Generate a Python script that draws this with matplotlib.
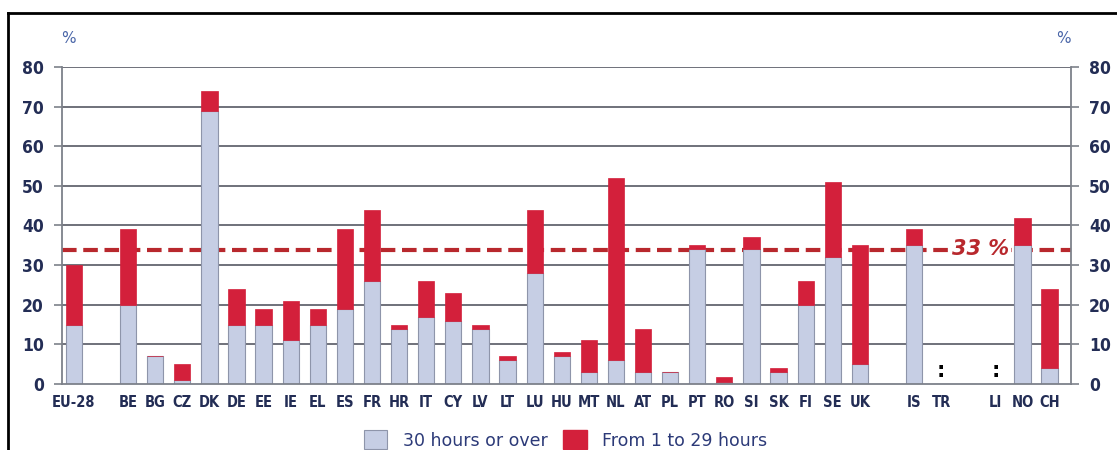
import numpy as np
import matplotlib
matplotlib.use("Agg")
import matplotlib.pyplot as plt
from matplotlib.patches import Patch

# Part-time employment by hours, %
countries = ["EU-28", "", "BE", "BG", "CZ", "DK", "DE", "EE", "IE", "EL", "ES", "FR",
             "HR", "IT", "CY", "LV", "LT", "LU", "HU", "MT", "NL", "AT", "PL", "PT",
             "RO", "SI", "SK", "FI", "SE", "UK", "", "IS", "TR", "", "LI", "NO", "CH"]
over30 = [15, 0, 20, 7, 1, 69, 15, 15, 11, 15, 19, 26,
          14, 17, 16, 14, 6, 28, 7, 3, 6, 3, 3, 34,
          0.5, 34, 3, 20, 32, 5, 0, 35, 0, 0, 0, 35, 4]
from1to29 = [15, 0, 19, 0, 4, 5, 9, 4, 10, 4, 20, 18,
             1, 9, 7, 1, 1, 16, 1, 8, 46, 11, 0, 1,
             1.3, 3, 1, 6, 19, 30, 0, 4, 0, 0, 0, 7, 20]
not_available = ["TR", "LI"]
reference_value = 33.7
reference_label = "33 %"

blue = "#c6cee4"
blue_edge = "#8e95aa"
red = "#d3203b"
dark_red = "#b8282d"
navy = "#232d55"

fig = plt.figure(figsize=(11.17, 4.5), dpi=100)
ax = fig.add_axes([0.0555, 0.1467, 0.9033, 0.7044])

x = np.arange(len(countries))
ax.set_xlim(-0.44, 36.79)
ax.set_ylim(0, 80)

# grid + reference line behind the bars
for yv in range(10, 81, 10):
    ax.axhline(yv, color="#63666f", lw=1.3, zorder=0)
ax.axhline(reference_value, color=dark_red, lw=3, ls=(0, (3.5, 1.6)), zorder=1)

ax.bar(x, over30, width=0.6, color=blue, edgecolor=blue_edge, lw=0.8, zorder=2)
ax.bar(x, from1to29, width=0.6, bottom=over30, color=red, edgecolor=red, lw=0.5, zorder=2)

for c in not_available:
    i = countries.index(c)
    ax.text(x[i], 3.4, ":", ha="center", va="center", fontsize=15, fontweight="bold",
            color="black", zorder=3)

ax.text(33.45, reference_value + 0.3, reference_label, ha="center", va="center",
        fontsize=15, fontweight="bold", style="italic", color=dark_red, zorder=3,
        bbox=dict(facecolor="white", edgecolor="none", pad=1.5))

ax.spines["top"].set_visible(False)
for s in ["left", "right", "bottom"]:
    ax.spines[s].set_color("#7d818a")
    ax.spines[s].set_linewidth(1.3)

ax.set_xticks(x)
ax.set_xticklabels(countries, fontsize=10.5, fontweight="bold", color=navy,
                   family="DejaVu Sans", fontstretch="condensed")
ax.tick_params(axis="x", length=0, pad=8)

yt = np.arange(0, 81, 10)
ax.set_yticks(yt)
ax.set_yticklabels([str(v) for v in yt], fontsize=12.5, fontweight="bold", color=navy,
                   family="DejaVu Sans", fontstretch="condensed")
ax.tick_params(axis="y", length=6, width=1.2, color="#7d818a", pad=7)
ax2 = ax.twinx()
ax2.set_ylim(0, 80)
ax2.set_yticks(yt)
ax2.set_yticklabels([str(v) for v in yt], fontsize=12.5, fontweight="bold", color=navy,
                    family="DejaVu Sans", fontstretch="condensed")
ax2.tick_params(axis="y", length=6, width=1.2, color="#7d818a", pad=7)
for s in ax2.spines.values():
    s.set_visible(False)

fig.text(0.061, 0.915, "%", fontsize=11, color="#4a66a8", ha="center", va="center")
fig.text(0.952, 0.915, "%", fontsize=11, color="#4a66a8", ha="center", va="center")

handles = [Patch(facecolor=blue, edgecolor=blue_edge, lw=0.8),
           Patch(facecolor=red, edgecolor=red)]
leg = fig.legend(handles, ["30 hours or over", "From 1 to 29 hours"], loc="center",
                 bbox_to_anchor=(0.5065, 0.022), ncol=2, frameon=False, fontsize=12.5,
                 handlelength=1.35, handleheight=1.3, handletextpad=0.9, columnspacing=0.9)
for t in leg.get_texts():
    t.set_color("#2c3a78")

# frame around the figure (top and left edges visible)
fig.add_artist(plt.Line2D([0.0072, 1.0], [0.971, 0.971], color="black", lw=2,
                          transform=fig.transFigure))
fig.add_artist(plt.Line2D([0.0072, 0.0072], [0.0, 0.971], color="black", lw=2,
                          transform=fig.transFigure))

fig.savefig("out.png", dpi=100)
